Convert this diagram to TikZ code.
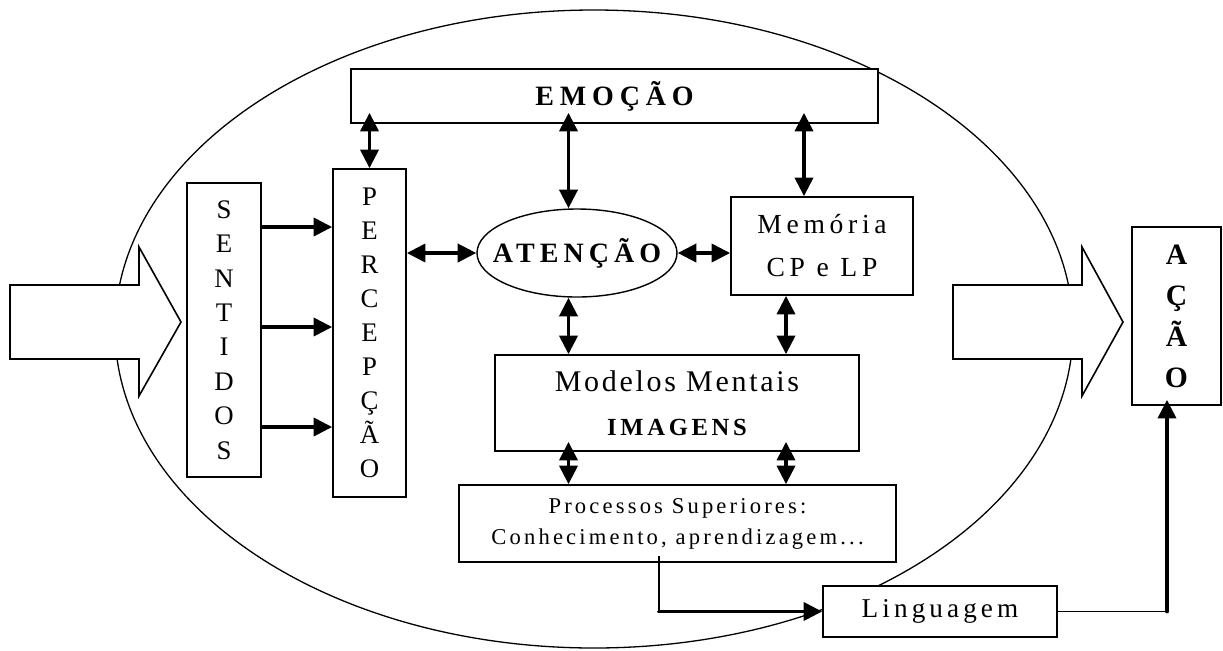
\documentclass[tikz,border=0pt]{standalone}
\usepackage{fontspec}
\setmainfont{Liberation Serif}
\usetikzlibrary{arrows.meta,shapes.geometric}
% tracked (letter-spaced) text
\newcommand\trk[2]{{\addfontfeature{LetterSpace=#1}#2}}

\begin{document}
\begin{tikzpicture}[x=0.5pt,y=-0.5pt,
  box/.style={draw, line width=0.8pt, fill=white, rectangle, inner sep=0pt, align=center},
  oval/.style={draw, line width=0.7pt, fill=white, ellipse, inner sep=0pt},
  one/.style={-{Triangle[length=9.3pt,width=9pt]}, line width=1.9pt, line cap=round},
  dbl/.style={{Triangle[length=9.3pt,width=9pt]}-{Triangle[length=9.3pt,width=9pt]}, line width=1.9pt},
  thinline/.style={line width=0.75pt},
  bigarrow/.style={draw, line width=0.8pt, fill=white, line join=miter}]
\useasboundingbox (0,0) rectangle (1223,650);

% the mind: large ellipse
\draw[line width=0.65pt] (594,329) ellipse [x radius=239.5pt, y radius=159.5pt];

% input and output block arrows
\path[bigarrow] (10,285) -- (139,285) -- (139,247) -- (181,322) -- (139,396) -- (139,359) -- (10,359) -- cycle;
\path[bigarrow] (953,285) -- (1082,285) -- (1082,247) -- (1123,322) -- (1082,396) -- (1082,359) -- (953,359) -- cycle;

% boxes
\node[box, minimum width=37pt, minimum height=147pt,
      font=\fontsize{13.4}{17.2}\selectfont] (sentidos) at (224,330)
  {S\\E\\N\\T\\I\\D\\O\\S};
\node[box, minimum width=36.5pt, minimum height=164pt,
      font=\fontsize{13.4}{17}\selectfont] (percepcao) at (369.5,333)
  {P\\E\\R\\C\\E\\P\\Ç\\Ã\\O};
\node[box, minimum width=263.5pt, minimum height=27pt,
      font=\bfseries\fontsize{14}{16}\selectfont] (emocao) at (614.5,96)
  {\trk{21}{EMOÇÃO}};
\node[oval, minimum width=100pt, minimum height=44pt] (atencao) at (577,253) {};
\node[font=\bfseries\fontsize{14}{16}\selectfont, inner sep=0pt] (atencaotxt) at (atencao.center)
  {\trk{18}{ATENÇÃO}};
\node[box, minimum width=91pt, minimum height=49pt,
      font=\fontsize{13.8}{21.5}\selectfont] (memoria) at (822,246)
  {\trk{17}{Memória}\\\trk{17}{CP e LP}};
\node[box, minimum width=182pt, minimum height=48pt,
      font=\fontsize{15}{22}\selectfont] (modelos) at (677,403)
  {\trk{9}{Modelos Mentais}\\{\bfseries\fontsize{12.3}{22}\selectfont\trk{15}{IMAGENS}}};
\node[box, minimum width=218.5pt, minimum height=38.5pt,
      font=\fontsize{11.3}{15.5}\selectfont] (processos) at (677.5,523.5)
  {\trk{14}{Processos Superiores:}\\\trk{14}{Conhecimento, aprendizagem...}};
\node[box, minimum width=117pt, minimum height=25.5pt,
      font=\fontsize{13.6}{16}\selectfont] (linguagem) at (940,611.5)
  {\trk{15}{Linguagem}};
\node[box, minimum width=44.5pt, minimum height=89pt,
      font=\bfseries\fontsize{14.8}{20.5}\selectfont] (acao) at (1176.5,316)
  {A\\Ç\\Ã\\O};

% guide coordinates for connector columns and rows
\coordinate (cA) at (568.5,0);
\coordinate (cM) at (786,0);
\coordinate (cE) at (804,0);
\coordinate (cP) at (659,0);
\coordinate (cL) at (1167,0);
\foreach \i/\y in {1/227,2/327,3/427} \coordinate (r\i) at (0,\y);

% senses feed perception
\foreach \i in {1,2,3}
  \draw[one] (sentidos.east |- r\i) -- (percepcao.west |- r\i);

% emotion links
\draw[dbl] ([yshift=5.5pt]emocao.south -| percepcao.north) -- (percepcao.north);
\draw[dbl] ([yshift=5.5pt]emocao.south -| cA) -- (atencao.north -| cA);
\draw[dbl] ([yshift=5.5pt]emocao.south -| cE) -- (memoria.north -| cE);

% attention links
\draw[dbl] (percepcao.east |- atencao.west) -- (atencao.west);
\draw[dbl] (atencao.east) -- (atencao.east -| memoria.west);
\draw[dbl] (atencao.south -| cA) -- (modelos.north -| cA);
\draw[dbl] (memoria.south -| cM) -- (modelos.north -| cM);

% mental models to higher processes
\draw[dbl] ([yshift=5pt]modelos.south -| cA) -- (processos.north -| cA);
\draw[dbl] ([yshift=5pt]modelos.south -| cM) -- (processos.north -| cM);

% higher processes to language, language to action
\coordinate (bendL) at (cP |- linguagem.west);
\draw[thinline] ([yshift=3.5pt]processos.south -| cP) -- (bendL);
\draw[one] (bendL) -- (linguagem.west);
\coordinate (bendA) at (linguagem.east -| cL);
\draw[thinline] (linguagem.east) -- (bendA);
\draw[one] (bendA) -- ([yshift=3pt]acao.south -| cL);
\end{tikzpicture}
\end{document}
